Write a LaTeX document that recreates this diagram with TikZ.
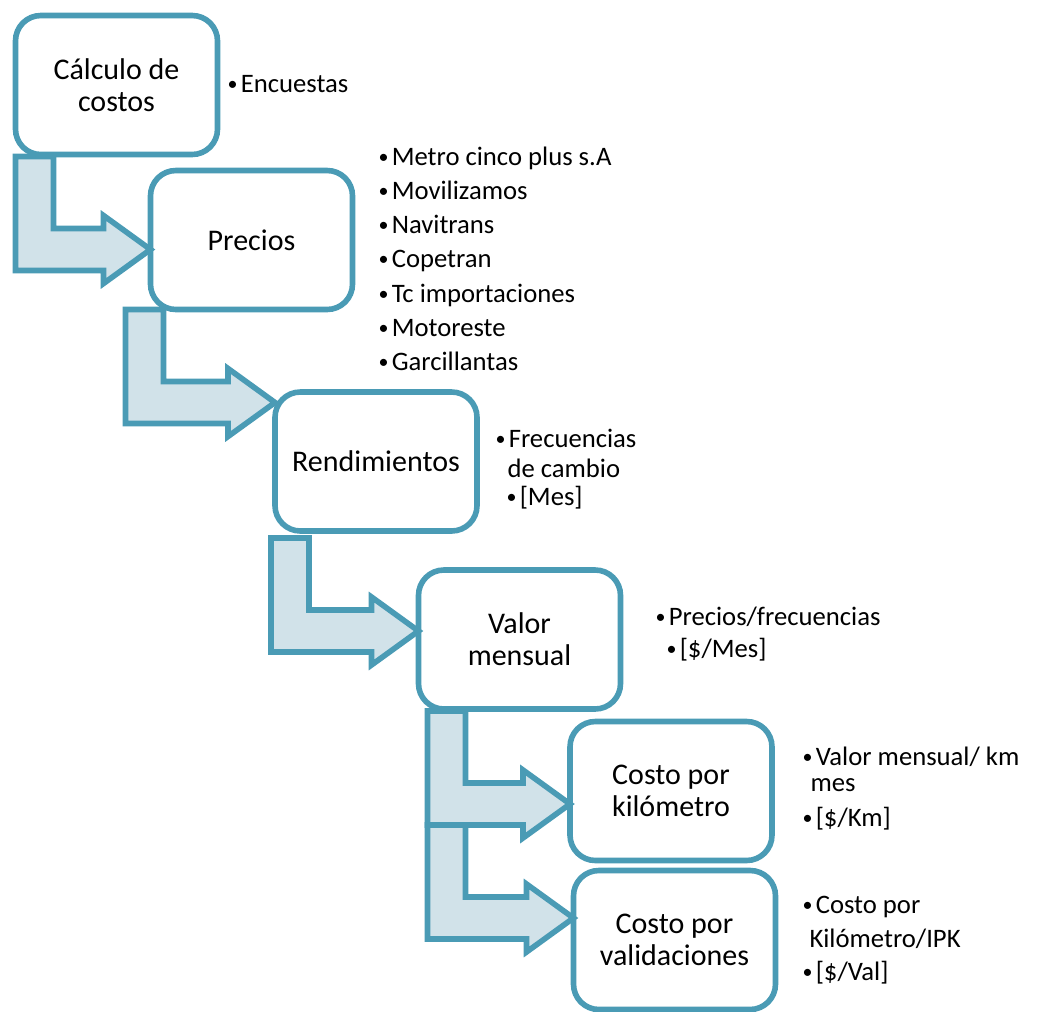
\documentclass[tikz,border=0pt]{standalone}
\usepackage{fontspec}
\setmainfont{Carlito}
\usetikzlibrary{calc}

\definecolor{borde}{RGB}{74,155,181}
\definecolor{relleno}{RGB}{209,226,233}

\tikzset{every picture/.style={line width=0.75pt}}
\tikzset{
  caja/.style={draw=borde, line width=4.2pt, fill=white, rounded corners=19pt,
    minimum width=151.5pt, minimum height=104.25pt, inner sep=0pt, outer sep=0pt,
    align=center, font=\fontsize{22.5}{24}\selectfont},
  flecha/.style={draw=borde, line width=4.2pt, fill=relleno, line join=miter},
  txt/.style={anchor=base west, inner sep=0pt, font=\fontsize{20}{24}\selectfont},
}

% small bullet in front of the side texts
\newcommand{\punto}{\raisebox{0.12ex}{\scalebox{0.75}{•}}\kern2.5pt}

% bent block arrow: #1 top left of the stem, #2 box it points to
\newcommand{\bentarrow}[2]{%
  \draw[flecha] (#1) coordinate (s) -- ++(38,0) -- ++(0,72)
    -- ($(#2.west |- s)+(-47,72)$) -- ($(#2.west |- s)+(-47,59)$)
    -- ($(#2.west |- s)+(0,93)$) -- ($(#2.west |- s)+(-47,127)$)
    -- ($(#2.west |- s)+(-47,114)$) -- ($(s)+(0,114)$) -- cycle;}

\begin{document}
\begin{tikzpicture}[x=0.75pt,y=0.75pt,yscale=-1,xscale=1]
	\useasboundingbox (0,0) rectangle (1050,1011);

	% Rounded Rect
	\node[caja] (calculo) at (116.5,85) {Cálculo de\\costos};
	% Rounded Rect
	\node[caja] (precios) at (251.5,240) {Precios};
	% Rounded Rect
	\node[caja] (rend) at (376,461.5) {Rendimientos};
	% Rounded Rect
	\node[caja] (valor) at (519.5,639.5) {Valor\\mensual};
	% Rounded Rect
	\node[caja] (costokm) at (671,791) {Costo por\\kilómetro};
	% Rounded Rect
	\node[caja] (costoval) at (674.5,940) {Costo por\\validaciones};

	% Bent Arrows
	\bentarrow{$(calculo.south west)+(0,2)$}{precios}
	\bentarrow{$(precios.south west)+(-25,0)$}{rend}
	\bentarrow{$(rend.south west)+(-4,7)$}{valor}
	\bentarrow{$(valor.south west)+(9,2)$}{costokm}
	\bentarrow{$(valor.south west)+(9,116)$}{costoval}

	% Text Node
	\node[txt] (encuestas) at (227,92) {\punto Encuestas};
	% Text Node
	\node[txt] (metro) at (378,165) {\punto Metro cinco plus s.A};
	\node[txt] (moviliz) at (378,199) {\punto Movilizamos};
	\node[txt] (navitrans) at (378,233) {\punto Navitrans};
	\node[txt] (copetran) at (378,267) {\punto Copetran};
	\node[txt] (tc) at (378,302) {\punto Tc importaciones};
	\node[txt] (motoreste) at (378,336) {\punto Motoreste};
	\node[txt] (garcill) at (378,370) {\punto Garcillantas};
	% Text Node
	\node[txt] (frec) at (495,447) {\punto Frecuencias};
	\node[txt] (cambio) at (507,477) {de cambio};
	\node[txt] (mes) at (506,505) {\punto [Mes]};
	% Text Node
	\node[txt] (preciofrec) at (655,625) {\punto Precios/frecuencias};
	\node[txt] (pesomes) at (666,657) {\punto [\$/Mes]};
	% Text Node
	\node[txt] (valorkm) at (802,765) {\punto Valor mensual/ km};
	\node[txt] (kmmes) at (810,791) {mes};
	\node[txt] (pesokm) at (802,826) {\punto [\$/Km]};
	% Text Node
	\node[txt] (costopor) at (802,913) {\punto Costo por};
	\node[txt] (ipk) at (809,947) {Kilómetro/IPK};
	\node[txt] (pesoval) at (802,980) {\punto [\$/Val]};

\end{tikzpicture}
\end{document}
